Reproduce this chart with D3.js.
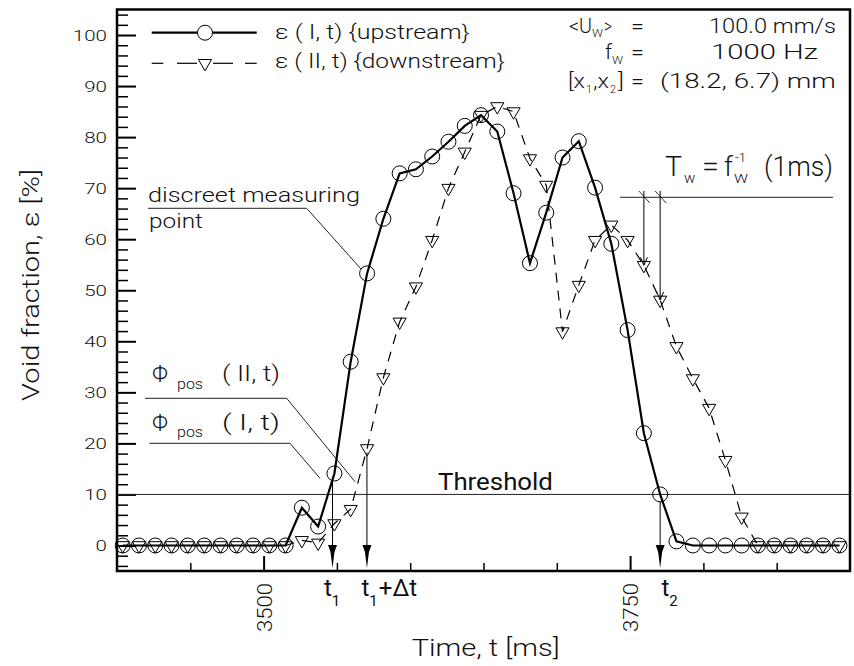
<!DOCTYPE html>
<html><head><meta charset="utf-8">
<script src="https://cdn.jsdelivr.net/npm/d3@7"></script>
<style>
html,body{margin:0;padding:0;background:#fff;}
svg text{font-family:Roboto,"Liberation Sans",Arial,sans-serif;font-weight:300;fill:#111;}
</style></head><body>
<svg id="c" width="854" height="666"></svg>
<script>
// ---- data ----
const times = [3403.9,3415.0,3426.1,3437.2,3448.3,3459.5,3470.6,3481.7,3492.8,3503.9,
  3515.0,3526.1,3537.2,3548.3,3559.4,3570.6,3581.7,3592.8,3603.9,3615.0,
  3626.1,3637.2,3648.3,3659.4,3670.5,3681.7,3692.8,3703.9,3715.0,3726.1,
  3737.2,3748.3,3759.4,3770.5,3781.6,3792.8,3803.9,3815.0,3826.1,3837.2,
  3848.3,3859.4,3870.5,3881.6,3892.8];
const upstream = [0,0,0,0,0,0,0,0,0,0,
  0,7.4,3.7,14.1,36.0,53.3,64.0,72.9,73.7,76.2,
  79.1,82.2,84.3,81.1,69.0,55.3,65.2,76.0,79.2,70.1,
  59.1,42.2,22.0,10.0,0.8,0,0,0,0,0,
  0,0,0,0,0];
const downstream = [0,0,0,0,0,0,0,0,0,0,
  0,1.0,0.5,4.3,7.1,19.0,32.9,43.8,50.7,59.8,
  70.0,77.1,84.3,86.0,85.0,75.8,70.6,41.9,51.0,59.8,
  62.8,59.8,54.9,48.1,39.0,32.7,26.9,16.7,5.6,0,
  0,0,0,0,0];
const yMajorTicks = [0,10,20,30,40,50,60,70,80,90,100];
const xMajorTicks = [3500,3750];
const xMinorTicks = [3450,3550,3600,3650,3700,3800,3850];
const threshold = 10;
const tMarks = [{t:3547, label:"t", sub:"1", rest:""},
                {t:3570.5, label:"t", sub:"1", rest:"+Δt"},
                {t:3770.5, label:"t", sub:"2", rest:""}];
const tMarkStart = [14.1, 19.0, 10.0];   // values where the arrows start
const twIdx = [32, 33];                    // downstream points marked with T_w

// ---- scales ----
const L=117, R=850, T=9.5, B=571;
const x = d3.scaleLinear().domain([3400,3900]).range([L,R]);
const y = d3.scaleLinear().domain([-5,105]).range([B,T]);
const svg = d3.select("#c");

// stretch a text node horizontally to a target width
function stretch(sel, width, pre){
  sel.each(function(){
    const w = this.getComputedTextLength();
    const s = width ? width / w : 1;
    d3.select(this).attr("transform", (pre||"") + ` scale(${s},1)`);
  });
}
function stext(xp, yp, s, size, width, opts){
  opts = opts || {};
  const t = svg.append("text").style("font-size", size+"px").text(s);
  if(opts.w) t.style("font-weight", opts.w);
  if(opts.anchor) t.attr("text-anchor", opts.anchor);
  stretch(t, width, `translate(${xp},${yp})` + (opts.rot?` rotate(${opts.rot})`:""));
  return t;
}

// ---- axes ----
const yMinor = d3.range(-4,105,2).filter(v=>v%10!==0);
const gym = svg.append("g").attr("transform",`translate(${L},0)`)
  .call(d3.axisLeft(y).tickValues(yMinor).tickSize(-11).tickFormat(""));
gym.select(".domain").remove();
gym.selectAll("line").attr("stroke","#000").attr("stroke-width",1.5);

const gyM = svg.append("g").attr("transform",`translate(${L},0)`)
  .call(d3.axisLeft(y).tickValues(yMajorTicks).tickSize(-19).tickPadding(10).tickFormat(d3.format("d")));
gyM.select(".domain").remove();
gyM.selectAll("line").attr("stroke","#000").attr("stroke-width",2);
gyM.selectAll("text").style("font-size","15.5px").style("font-family",null).attr("fill","#111")
  .attr("x",0).attr("dy",null).each(function(d){
    const w = this.getComputedTextLength();
    d3.select(this).attr("transform",`translate(-10,5.5) scale(${String(d).length*11.4/w},1)`);
  });

const gxm = svg.append("g").attr("transform",`translate(0,${B})`)
  .call(d3.axisBottom(x).tickValues(xMinorTicks).tickSize(-8).tickFormat(""));
gxm.select(".domain").remove();
gxm.selectAll("line").attr("stroke","#000").attr("stroke-width",1.5);

const gxM = svg.append("g").attr("transform",`translate(0,${B})`)
  .call(d3.axisBottom(x).tickValues(xMajorTicks).tickSize(-15).tickFormat(d3.format("d")));
gxM.select(".domain").remove();
gxM.selectAll("line").attr("stroke","#000").attr("stroke-width",2);
gxM.selectAll("text").attr("x",0).attr("y",0).attr("dy",null).attr("text-anchor","end")
  .style("font-size","20px").attr("fill","#111").each(function(){
    const w = this.getComputedTextLength();
    d3.select(this).attr("transform",`translate(7.5,12) rotate(-90) scale(${49/w},1)`);
  });

// frame
svg.append("rect").attr("x",L).attr("y",T).attr("width",R-L).attr("height",B-T)
  .attr("fill","none").attr("stroke","#000").attr("stroke-width",2.5);

// threshold
svg.append("line").attr("x1",L).attr("x2",R).attr("y1",y(threshold)).attr("y2",y(threshold))
  .attr("stroke","#222").attr("stroke-width",1);

// ---- series ----
const pts = times.map((t,i)=>({t, u:upstream[i], d:downstream[i]}));
svg.append("path").datum(pts).attr("fill","none").attr("stroke","#000").attr("stroke-width",1.2)
  .attr("stroke-dasharray","10,8").attr("d",d3.line().x(d=>x(d.t)).y(d=>y(d.d)));
svg.append("path").datum(pts).attr("fill","none").attr("stroke","#000").attr("stroke-width",2.2)
  .attr("d",d3.line().x(d=>x(d.t)).y(d=>y(d.u)));
const tri = d3.symbol().type(d3.symbolTriangle).size(75);
svg.append("g").selectAll("path").data(pts).join("path")
  .attr("d",tri).attr("transform",d=>`translate(${x(d.t)},${y(d.d)}) rotate(180)`)
  .attr("fill","none").attr("stroke","#000").attr("stroke-width",1);
svg.append("g").selectAll("circle").data(pts).join("circle")
  .attr("cx",d=>x(d.t)).attr("cy",d=>y(d.u)).attr("r",7.5)
  .attr("fill","none").attr("stroke","#000").attr("stroke-width",1);

// ---- time arrows ----
tMarks.forEach((m,i)=>{
  const xx = x(m.t);
  const y0 = y(tMarkStart[i]) + (i===1?4:7);
  svg.append("line").attr("x1",xx).attr("x2",xx).attr("y1",y0).attr("y2",550)
    .attr("stroke","#000").attr("stroke-width",1);
  svg.append("path").attr("d",`M${xx-4.5},545 L${xx+4.5},545 L${xx+2},552 L${xx},568 L${xx-2},552 Z`)
    .attr("fill","#000");
});
const tl = [{x:324,y:596},{x:361.5,y:596},{x:661.5,y:596}];
tMarks.forEach((m,i)=>{
  const t = svg.append("text").attr("x",tl[i].x).attr("y",tl[i].y).style("font-size","24px").style("font-weight",400);
  t.append("tspan").text(m.label);
  t.append("tspan").attr("dy",10).style("font-size","15px").text(m.sub);
  if(m.rest) t.append("tspan").attr("dy",-10).attr("dx",1).text(m.rest);
});

// ---- T_w annotation ----
svg.append("line").attr("x1",620).attr("x2",833).attr("y1",197.3).attr("y2",197.3).attr("stroke","#222").attr("stroke-width",1);
twIdx.forEach(i=>{
  const xx = x(times[i]), yy = y(downstream[i]);
  svg.append("line").attr("x1",xx).attr("x2",xx).attr("y1",191).attr("y2",yy).attr("stroke","#000").attr("stroke-width",1);
  svg.append("line").attr("x1",xx-5).attr("x2",xx+6).attr("y1",191).attr("y2",203).attr("stroke","#000").attr("stroke-width",0.8);
  svg.append("path").attr("d",`M${xx-3.5},${yy-8} L${xx},${yy} L${xx+3.5},${yy-8}`).attr("fill","none").attr("stroke","#000").attr("stroke-width",1);
});
stext(665,176,"T",28,17);
stext(684,183,"w",15);
stext(702,176,"=",27,17);
stext(724,176,"f",27);
stext(735,162,"-1",13);
stext(734,183,"W",13,14);
stext(764,176,"(1ms)",27,69);

// ---- leaders and labels ----
const leader = (p)=>svg.append("path").attr("d",d3.line()(p)).attr("fill","none").attr("stroke","#222").attr("stroke-width",1);
leader([[148,208.3],[306.7,208.3],[361,269]]);
leader([[145,398.3],[286.7,398.3],[355,481.7]]);
leader([[149.3,443.3],[290,443.3],[320,478.3]]);
stext(148,202,"discreet measuring",21,212);
stext(149,228,"point",21,54);
stext(152,382,"Φ",23,16); stext(177,389,"pos",14,26); stext(222,381,"( II, t)",22,58);
stext(152,431,"Φ",23,16); stext(177,437,"pos",14,26); stext(222,430,"(  I, t)",22,58);
stext(438,490,"Threshold",23,115,{w:400});

// ---- legend ----
svg.append("line").attr("x1",151.7).attr("x2",256.7).attr("y1",32.7).attr("y2",32.7).attr("stroke","#000").attr("stroke-width",2.2);
svg.append("circle").attr("cx",205).attr("cy",32.7).attr("r",7.5).attr("fill","#fff").attr("stroke","#000");
[[151.7,163.3],[177,197],[213,233],[245,256.7]].forEach(s=>
  svg.append("line").attr("x1",s[0]).attr("x2",s[1]).attr("y1",63.3).attr("y2",63.3).attr("stroke","#000").attr("stroke-width",1.2));
svg.append("path").attr("d",tri).attr("transform","translate(205,63.3) rotate(180)").attr("fill","#fff").attr("stroke","#000");
stext(275,39,"ε (  I, t) {upstream}",21,195);
stext(275,68,"ε ( II, t) {downstream}",21,230);

// ---- parameters block ----
stext(569,33,"<U",20,23); stext(592,37,"W",11,11); stext(604,33,">",20,8); stext(631,33,"=",20,13);
stext(709,33,"100.0 mm/s",20,127);
stext(605,59,"f",20,7); stext(612,64,"W",11,11); stext(631,59,"=",20,13);
stext(711,59,"1000 Hz",20,107);
stext(568,88,"[x",20,17); stext(586,93,"1",11,6); stext(593,88,",x",20,16); stext(610,93,"2",11,6); stext(618,88,"]",20,6);
stext(631,88,"=",20,13);
stext(660,88,"(18.2, 6.7) mm",20,176);

// ---- axis titles ----
stext(411.7,656,"Time, t [ms]",24,148);
stext(39,285,"Void fraction, ε [%]",23,232,{anchor:"middle",rot:-90});
</script>
</body></html>
